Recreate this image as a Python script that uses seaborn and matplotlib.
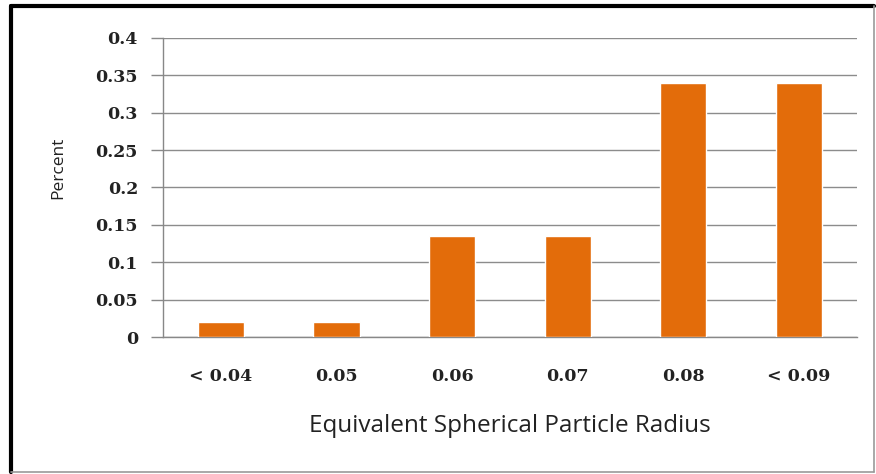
import matplotlib
matplotlib.use("Agg")
import matplotlib.pyplot as plt
import seaborn as sns
import pandas as pd
from matplotlib.lines import Line2D

# ---------- DATA ----------
radius_labels = ["< 0.04", "0.05", "0.06", "0.07", "0.08", "< 0.09"]
percent_values = [0.02, 0.02, 0.135, 0.135, 0.34, 0.34]
y_ticks = [0, 0.05, 0.1, 0.15, 0.2, 0.25, 0.3, 0.35, 0.4]
y_tick_labels = ["0", "0.05", "0.1", "0.15", "0.2", "0.25", "0.3", "0.35", "0.4"]

df = pd.DataFrame({"radius": radius_labels, "percent": percent_values})

# ---------- PLOT ----------
sns.set_style("white")

fig = plt.figure(figsize=(8.76, 4.74), dpi=100)
ax = fig.add_axes([0.186, 0.289, 0.792, 0.631])

sns.barplot(data=df, x="radius", y="percent", color="#E36C0A",
            saturation=1, width=0.4, ax=ax, zorder=3)

ax.set_ylim(0, 0.4)
ax.set_xlim(-0.5, 5.5)
ax.set_yticks(y_ticks)
ax.set_yticklabels(y_tick_labels, fontsize=12.5, fontweight="bold",
                   family="DejaVu Serif", color="#222222")
ax.set_xticks(range(len(radius_labels)))
ax.set_xticklabels(radius_labels, fontsize=12.5, fontweight="bold",
                   family="DejaVu Serif", color="#222222")
ax.tick_params(axis="y", length=9, width=1, color="#888888", pad=9, direction="out", left=True)
ax.tick_params(axis="x", length=0, pad=22)

ax.yaxis.grid(True, color="#8c8c8c", linewidth=1)
ax.set_axisbelow(True)

for side in ["top", "right"]:
    ax.spines[side].set_visible(False)
for side in ["left", "bottom"]:
    ax.spines[side].set_color("#888888")
    ax.spines[side].set_linewidth(1)

ax.set_xlabel("Equivalent Spherical Particle Radius", fontsize=17.5,
              family="Open Sans", color="#222222", labelpad=21)
ax.set_ylabel("Percent", fontsize=12.5, family="Open Sans", color="#222222")
ax.yaxis.set_label_coords(-0.14, 0.565)

# outer chart border
fig.add_artist(Line2D([0.012, 0.998], [0.987, 0.987], transform=fig.transFigure,
                      color="black", linewidth=3))
fig.add_artist(Line2D([0.012, 0.012], [0.004, 0.987], transform=fig.transFigure,
                      color="black", linewidth=3))
fig.add_artist(Line2D([0.012, 0.998], [0.004, 0.004], transform=fig.transFigure,
                      color="#999999", linewidth=1.2))
fig.add_artist(Line2D([0.998, 0.998], [0.004, 0.987], transform=fig.transFigure,
                      color="#999999", linewidth=1.2))

fig.savefig("out.png", dpi=100)
